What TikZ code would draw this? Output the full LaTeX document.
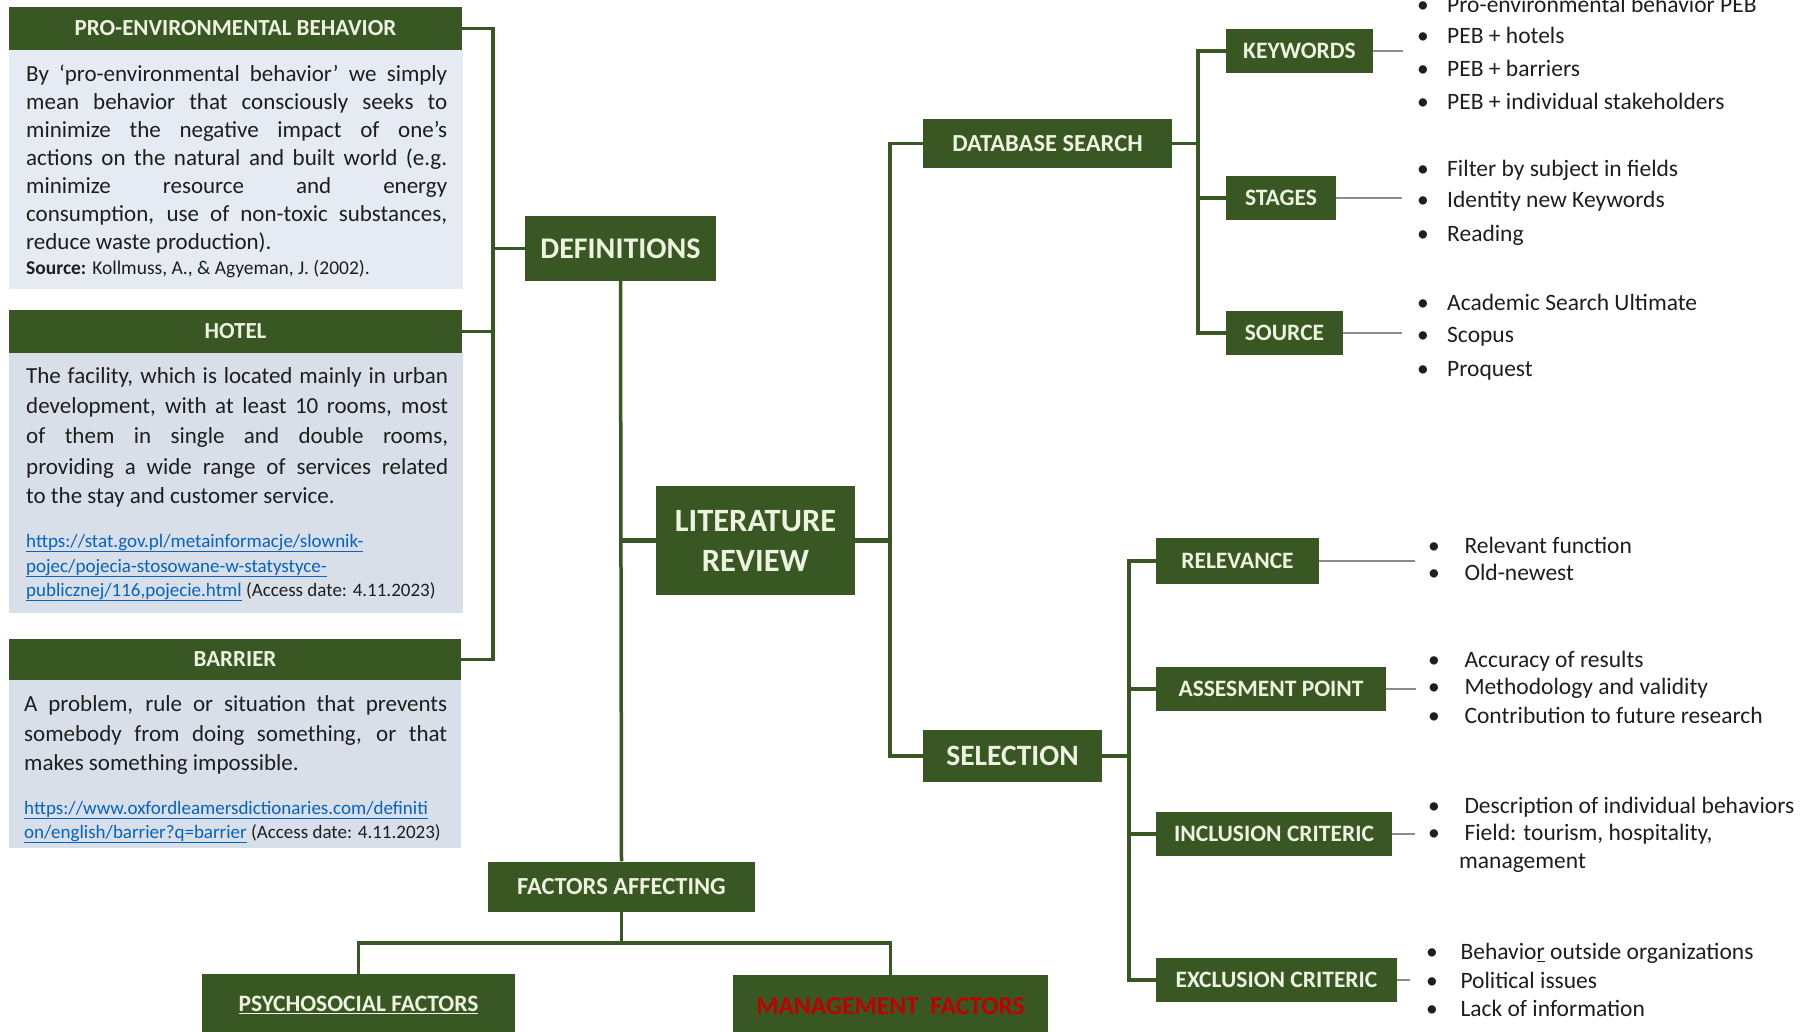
\documentclass[tikz,border=0pt]{standalone}
\usepackage{fontspec}
\setmainfont{Carlito}
\usetikzlibrary{calc}
\definecolor{gr}{HTML}{385723}
\definecolor{cream}{HTML}{EEF2E0}
\definecolor{bodyA}{HTML}{E6EAF2}
\definecolor{bodyB}{HTML}{D9DFE9}
\definecolor{urlc}{HTML}{0563C1}
\definecolor{thinc}{HTML}{8C8C8C}
\definecolor{mred}{HTML}{C00000}
\definecolor{txt}{HTML}{1E1E1E}
\newcommand\fsz[1]{\fontsize{#1}{#1}\selectfont}
\newcommand\bul[1][26pt]{\makebox[#1][l]{\hspace{-4pt}\textbullet}}
\newcommand\jl[2]{\makebox[#1][s]{#2}}
\begin{document}
\begin{tikzpicture}[x=1pt,y=-1pt,
  gbox/.style={fill=gr, text=cream, inner sep=0pt, align=center, font=\bfseries},
  hdr/.style={gbox, minimum width=453pt, minimum height=43pt, font=\bfseries\fsz{23}},
  sbox/.style={gbox, minimum height=44pt, font=\bfseries\fsz{23.5}},
  bodyrect/.style={inner sep=0pt, draw=none},
  ln/.style={inner sep=0pt, font=\fsz{23}, text=txt, anchor=base west},
  urlln/.style={inner sep=0pt, font=\fsz{19}, text=txt, anchor=base west},
  itm/.style={inner sep=0pt, font=\fsz{23.5}, text=txt, anchor=base west},
  conn/.style={draw=gr, line width=3.5pt, line join=miter},
  connw/.style={draw=gr, line width=5pt},
  thinl/.style={draw=thinc, line width=2pt}]
\clip (0,0) rectangle (1805,1032);
\fill[white] (0,0) rectangle (1805,1032);

% ---------- left panels ----------
\node[bodyrect, fill=bodyA, minimum width=454pt, minimum height=239pt] (pebb) at (236,169.5) {};
\node[hdr] (peh) at (235.5,28.5) {PRO-ENVIRONMENTAL BEHAVIOR};
\node[ln] (p1) at (26,82) {\jl{421pt}{By ‘pro-environmental behavior’ we simply}};
\node[ln] (p2) at (26,110) {\jl{421pt}{mean behavior that consciously seeks to}};
\node[ln] (p3) at (26,138) {\jl{421pt}{minimize the negative impact of one’s}};
\node[ln] (p4) at (26,166) {\jl{421pt}{actions on the natural and built world (e.g.}};
\node[ln] (p5) at (26,194) {\jl{421pt}{minimize resource and energy}};
\node[ln] (p6) at (26,222) {\jl{421pt}{consumption, use of non-toxic substances,}};
\node[ln] (p7) at (26,250) {reduce waste production).};
\node[urlln, font=\fsz{19.5}] (psrc) at (26,275) {\textbf{Source:} Kollmuss, A., \& Agyeman, J. (2002).};

\node[bodyrect, fill=bodyB, minimum width=454pt, minimum height=260pt] (hob) at (236,483) {};
\node[hdr] (hoh) at (235.5,331.5) {HOTEL};
\node[ln] (h1) at (26,383.5) {\jl{422pt}{The facility, which is located mainly in urban}};
\node[ln] (h2) at (26,413.5) {\jl{422pt}{development, with at least 10 rooms, most}};
\node[ln] (h3) at (26,443.5) {\jl{422pt}{of them in single and double rooms,}};
\node[ln] (h4) at (26,474) {\jl{422pt}{providing a wide range of services related}};
\node[ln] (h5) at (26,503.5) {to the stay and customer service.};
\node[urlln, text=urlc] (hu1) at (26,547) {\underline{https://stat.gov.pl/metainformacje/slownik-}};
\node[urlln, text=urlc] (hu2) at (26,572) {\underline{pojec/pojecia-stosowane-w-statystyce-}};
\node[urlln] (hu3) at (26,596) {\textcolor{urlc}{\underline{publicznej/116,pojecie.html}} (Access date: 4.11.2023)};

\node[bodyrect, fill=bodyB, minimum width=452pt, minimum height=168pt] (barb) at (235,764) {};
\node[hdr, minimum width=452pt, minimum height=41pt] (barh) at (235,659.5) {BARRIER};
\node[ln] (b1) at (24,711.5) {\jl{423pt}{A problem, rule or situation that prevents}};
\node[ln] (b2) at (24,741.5) {\jl{423pt}{somebody from doing something, or that}};
\node[ln] (b3) at (24,770.5) {makes something impossible.};
\node[urlln, text=urlc] (bu1) at (24,814) {\underline{https://www.oxfordleamersdictionaries.com/definiti}};
\node[urlln] (bu2) at (24,838) {\textcolor{urlc}{\underline{on/english/barrier?q=barrier}} (Access date: 4.11.2023)};

% ---------- centre boxes ----------
\node[gbox, minimum width=191pt, minimum height=65pt, font=\bfseries\fsz{30}] (def) at (620.5,248.5) {DEFINITIONS};
\node[gbox, minimum width=199pt, minimum height=109pt, font=\bfseries\fontsize{32.5}{40}\selectfont] (lr) at (755.5,540.5) {LITERATURE\\REVIEW};
\node[gbox, minimum width=267pt, minimum height=50pt, font=\bfseries\fsz{24.5}] (fa) at (621.5,886.5) {FACTORS AFFECTING};
\node[gbox, minimum width=313pt, minimum height=62pt, font=\bfseries\fsz{23.5}] (psy) at (358.5,1005) {\underline{PSYCHOSOCIAL FACTORS}};
\node[gbox, minimum width=315pt, minimum height=62pt, text=mred, font=\bfseries\fsz{25.5}] (man) at (890.5,1006) {MANAGEMENT\ \ FACTORS};

\node[gbox, minimum width=249pt, minimum height=49pt, font=\bfseries\fsz{24.5}] (dbs) at (1047.5,143.5) {DATABASE SEARCH};
\node[gbox, minimum width=179pt, minimum height=52pt, font=\bfseries\fsz{29.5}] (sel) at (1012.5,756) {SELECTION};

\node[sbox, minimum width=147pt] (kw) at (1299.5,51) {KEYWORDS};
\node[sbox, minimum width=110pt] (st) at (1281,198) {STAGES};
\node[sbox, minimum width=117pt] (src) at (1284.5,333) {SOURCE};

\node[sbox, minimum width=163pt, minimum height=46pt] (rel) at (1237.5,561) {RELEVANCE};
\node[sbox, minimum width=230pt] (asp) at (1271,689) {ASSESMENT POINT};
\node[sbox, minimum width=236pt] (inc) at (1274,834) {INCLUSION CRITERIC};
\node[sbox, minimum width=241pt] (exc) at (1276.5,980) {EXCLUSION CRITERIC};

% ---------- connectors ----------
\coordinate (bx) at (493,0);
\draw[conn] (peh.east) -| (bx |- barh.east) -- (barh.east);
\draw[conn] (hoh.east) -- (hoh.east -| bx);
\draw[conn] (def.west -| bx) -- (def.west);

\draw[conn] (def.south) -- (fa.north);
\draw[connw] (def.south |- lr.west) -- (lr.west);

\coordinate (vx) at (890,0);
\draw[connw] (lr.east) -- (lr.east -| vx);
\draw[conn] (dbs.west) -| (vx |- sel.west) -- (sel.west);

\coordinate (dx) at (1198,0);
\draw[conn] (dbs.east) -- (dbs.east -| dx);
\draw[conn] (kw.west) -| (dx |- src.west) -- (src.west);
\draw[conn] (st.west) -- (st.west -| dx);

\coordinate (sx) at (1129,0);
\draw[conn] (sel.east) -- (sel.east -| sx);
\draw[conn] (rel.west) -| (sx |- exc.west) -- (exc.west);
\draw[conn] (asp.west) -- (asp.west -| sx);
\draw[conn] (inc.west) -- (inc.west -| sx);

\coordinate (fy) at (0,943);
\draw[conn] (fa.south) -- (fa.south |- fy);
\draw[conn] (psy.north) |- (man.north |- fy) -- (man.north);

% thin lines to lists
\coordinate (kwe) at (1403,51);
\coordinate (ste) at (1402,198);
\coordinate (srce) at (1402,333);
\coordinate (rele) at (1415,561);
\coordinate (aspe) at (1416,689);
\coordinate (ince) at (1415,834);
\coordinate (exce) at (1410,980);
\draw[thinl] (kw.east) -- (kwe);
\draw[thinl] (st.east) -- (ste);
\draw[thinl] (src.east) -- (srce);
\draw[thinl] (rel.east) -- (rele);
\draw[thinl] (asp.east) -- (aspe);
\draw[thinl] (inc.east) -- (ince);
\draw[thinl] (exc.east) -- (exce);

% ---------- bullet lists ----------
\node[itm] (k1) at (1421,12.5) {\bul Pro-environmental behavior PEB};
\node[itm] (k2) at (1421,43.5) {\bul PEB + hotels};
\node[itm] (k3) at (1421,76.5) {\bul PEB + barriers};
\node[itm] (k4) at (1421,109.5) {\bul PEB + individual stakeholders};

\node[itm] (s1) at (1421,176.5) {\bul Filter by subject in fields};
\node[itm] (s2) at (1421,208) {\bul Identity new Keywords};
\node[itm] (s3) at (1421,242) {\bul Reading};

\node[itm] (o1) at (1421,310.5) {\bul Academic Search Ultimate};
\node[itm] (o2) at (1421,343) {\bul Scopus};
\node[itm] (o3) at (1421,376.5) {\bul Proquest};

\node[itm] (r1) at (1432,553) {\bul[27pt] Relevant function};
\node[itm] (r2) at (1432,580) {\bul[27pt] Old-newest};

\node[itm] (a1) at (1432,667) {\bul[27pt] Accuracy of results};
\node[itm] (a2) at (1432,694) {\bul[27pt] Methodology and validity};
\node[itm] (a3) at (1432,723) {\bul[27pt] Contribution to future research};

\node[itm] (i1) at (1432,813) {\bul[27pt] Description of individual behaviors};
\node[itm] (i2) at (1432,840) {\bul[27pt] Field: tourism, hospitality,};
\node[itm] (i3) at (1459,868.5) {management};

\node[itm] (e1) at (1430,959.5) {\bul[25pt] Behavio\underline{r} outside organizations};
\node[itm] (e2) at (1430,988) {\bul[25pt] Political issues};
\node[itm] (e3) at (1430,1016.5) {\bul[25pt] Lack of information};
\end{tikzpicture}
\end{document}
